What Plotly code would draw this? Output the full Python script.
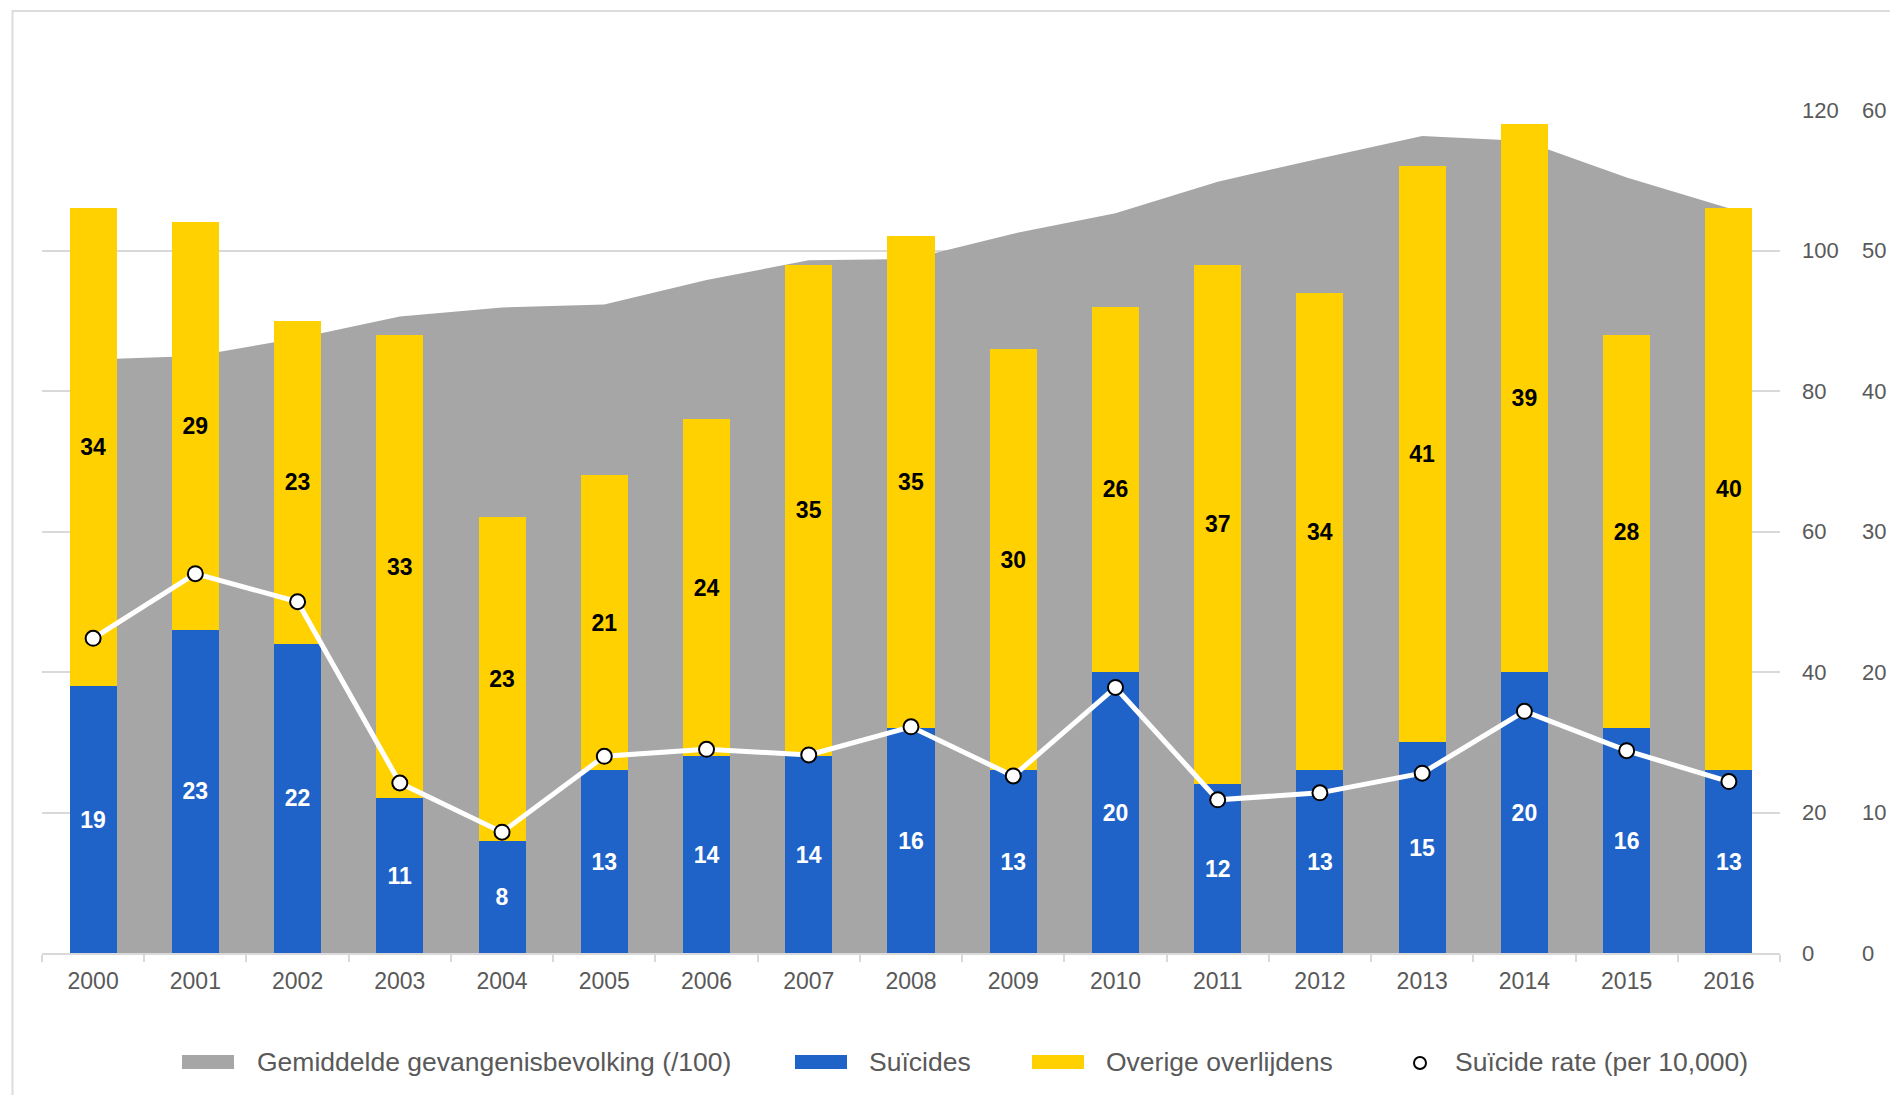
import plotly.graph_objects as go

# ---------------- data ----------------
years = ["2000", "2001", "2002", "2003", "2004", "2005", "2006", "2007", "2008",
         "2009", "2010", "2011", "2012", "2013", "2014", "2015", "2016"]
population_per100 = [84.5, 85.0, 87.5, 90.6, 91.9, 92.3, 95.8, 98.6, 98.8,
                     102.4, 105.3, 109.8, 113.1, 116.3, 115.6, 110.4, 106.0]
suicides = [19, 23, 22, 11, 8, 13, 14, 14, 16, 13, 20, 12, 13, 15, 20, 16, 13]
other_deaths = [34, 29, 23, 33, 23, 21, 24, 35, 35, 30, 26, 37, 34, 41, 39, 28, 40]
suicide_rate = [22.4, 27.0, 25.0, 12.1, 8.6, 14.0, 14.5, 14.1, 16.1,
                12.6, 18.9, 10.9, 11.4, 12.8, 17.2, 14.4, 12.2]
left_ticks = [0, 20, 40, 60, 80, 100, 120]
right_ticks = [0, 10, 20, 30, 40, 50, 60]
legend_names = ["Gemiddelde gevangenisbevolking (/100)", "Suïcides",
                "Overige overlijdens", "Suïcide rate (per 10,000)"]

# ---------------- style ----------------
GRAY = "#a6a6a6"
BLUE = "#1f63c8"
YELLOW = "#ffd100"
TEXT = "#595959"
GRID = "#d9d9d9"
FONT = "Liberation Sans, Arial, sans-serif"

W, H = 1890, 1095
# plot area in page pixels
P_LEFT, P_RIGHT, P_TOP, P_BOTTOM = 42, 1780, 110, 953
PW, PH = P_RIGHT - P_LEFT, P_BOTTOM - P_TOP
ML, MT = P_LEFT, P_TOP
MR, MB = W - P_RIGHT, H - P_BOTTOM


def px_x(px):
    return (px - P_LEFT) / PW


def px_y(py):
    return (P_BOTTOM - py) / PH


fig = go.Figure()

fig.add_trace(go.Scatter(
    x=years, y=population_per100, name=legend_names[0], mode="lines",
    line=dict(width=0, color=GRAY), fill="tozeroy", fillcolor=GRAY,
    yaxis="y", showlegend=False, hoverinfo="skip"))

fig.add_trace(go.Bar(
    x=years, y=suicides, name=legend_names[1], marker=dict(color=BLUE, line=dict(width=0)),
    yaxis="y2", texttemplate="%{y}", textposition="inside", insidetextanchor="middle",
    textangle=0, textfont=dict(family=FONT, size=23, color="white", weight="bold"),
    constraintext="none", showlegend=False))

fig.add_trace(go.Bar(
    x=years, y=other_deaths, name=legend_names[2], marker=dict(color=YELLOW, line=dict(width=0)),
    yaxis="y2", texttemplate="%{y}", textposition="inside", insidetextanchor="middle",
    textangle=0, textfont=dict(family=FONT, size=23, color="black", weight="bold"),
    constraintext="none", showlegend=False))

fig.add_trace(go.Scatter(
    x=years, y=suicide_rate, name=legend_names[3], mode="lines+markers",
    line=dict(color="white", width=5),
    marker=dict(size=15, color="white", line=dict(color="black", width=2)),
    yaxis="y2", showlegend=False))

# ---------------- legend (drawn manually) ----------------
shapes = []
annotations = []
leg_y0, leg_y1 = 1055, 1069
leg_mid = 1062
rects = [(182, 234, GRAY), (795, 847, BLUE), (1032, 1084, YELLOW)]
for x0, x1, col in rects:
    shapes.append(dict(type="rect", xref="paper", yref="paper",
                       x0=px_x(x0), x1=px_x(x1), y0=px_y(leg_y1), y1=px_y(leg_y0),
                       fillcolor=col, line=dict(width=0), layer="above"))
r = 6
shapes.append(dict(type="circle", xref="paper", yref="paper",
                   x0=px_x(1420 - r), x1=px_x(1420 + r), y0=px_y(1063 + r), y1=px_y(1063 - r),
                   fillcolor="white", line=dict(color="black", width=2), layer="above"))
text_x = [255, 867, 1104, 1453]
for name, tx in zip(legend_names, text_x):
    annotations.append(dict(text=name, xref="paper", yref="paper", x=px_x(tx), y=px_y(leg_mid),
                            xanchor="left", yanchor="middle", showarrow=False,
                            font=dict(family=FONT, size=26.5, color=TEXT)))

# frame border
shapes.append(dict(type="rect", xref="paper", yref="paper",
                   x0=px_x(12.5), x1=px_x(1920), y0=px_y(1120), y1=px_y(11),
                   line=dict(color="#dcdcdc", width=2), fillcolor="rgba(0,0,0,0)", layer="below"))

fig.update_layout(
    width=W, height=H,
    margin=dict(l=ML, r=MR, t=MT, b=MB, pad=0, autoexpand=False),
    paper_bgcolor="white", plot_bgcolor="white",
    barmode="stack", bargap=0.54,
    font=dict(family=FONT, color=TEXT),
    shapes=shapes, annotations=annotations,
    xaxis=dict(type="category", range=[-0.5, 16.5], showline=True, linecolor=GRID, linewidth=2,
               ticks="outside", tickson="boundaries", ticklen=7, tickwidth=2, tickcolor=GRID,
               tickfont=dict(family=FONT, size=23, color=TEXT), showgrid=False,
               ticklabelstandoff=6, automargin=False),
    yaxis=dict(range=[0, 120], tickvals=left_ticks, side="right", showgrid=True,
               gridcolor=GRID, gridwidth=2, zeroline=False, showline=False, ticks="",
               tickfont=dict(family=FONT, size=22, color=TEXT), ticklabelstandoff=21,
               automargin=False),
    yaxis2=dict(range=[0, 60], tickvals=right_ticks, side="right", overlaying="y", anchor="x",
                showgrid=False, zeroline=False, showline=False, ticks="",
                tickfont=dict(family=FONT, size=22, color=TEXT), ticklabelstandoff=81,
                automargin=False),
)

fig.write_html("out.html", config={"displayModeBar": False},
               post_script="document.body.style.margin='0';document.body.style.overflow='hidden';")
